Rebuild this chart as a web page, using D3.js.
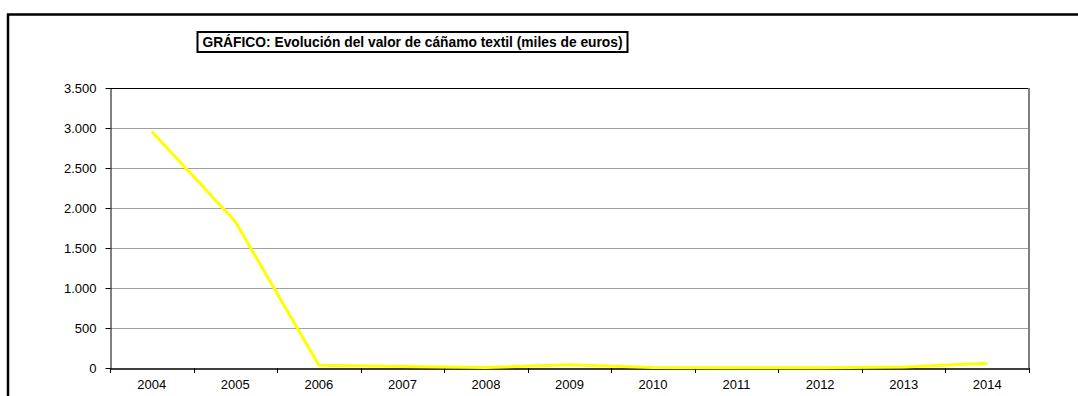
<!DOCTYPE html>
<html><head><meta charset="utf-8">
<script src="https://cdn.jsdelivr.net/npm/d3@7"></script>
<style>body{margin:0;background:#fff}svg{display:block}</style>
</head><body>
<svg id="c" width="1078" height="396"></svg>
<script>
const years = ["2004","2005","2006","2007","2008","2009","2010","2011","2012","2013","2014"];
const values = [2955, 1830, 35, 20, 6, 42, 5, 2, 3, 14, 60];
const yTicks = [0, 500, 1000, 1500, 2000, 2500, 3000, 3500];
const titleText = "GRÁFICO: Evolución del valor de cáñamo textil (miles de euros)";

(function () {
const svg = d3.select("#c");
const font = "Liberation Sans, Arial, sans-serif";
const pL = 110, pR = 1029, pT = 88, pB = 368;

// outer frame
svg.append("rect").attr("x", 8).attr("y", 14.5).attr("width", 1090).attr("height", 400)
  .attr("fill", "none").attr("stroke", "#000").attr("stroke-width", 2.5);

const x = d3.scaleBand().domain(years).range([pL, pR]);
const y = d3.scaleLinear().domain([0, 3500]).range([pB, pT]);

// gridlines
svg.append("g").selectAll("line").data(yTicks.filter(d => d > 0 && d < 3500)).join("line")
  .attr("x1", pL).attr("x2", pR)
  .attr("y1", d => Math.round(y(d)) + 0.5).attr("y2", d => Math.round(y(d)) + 0.5)
  .attr("stroke", "#a0a0a0").attr("stroke-width", 1);

// plot border: top black, right gray
svg.append("line").attr("x1", pL).attr("x2", pR).attr("y1", pT + 0.5).attr("y2", pT + 0.5)
  .attr("stroke", "#000");
svg.append("line").attr("x1", pR).attr("x2", pR).attr("y1", pT).attr("y2", pB)
  .attr("stroke", "#808080").attr("stroke-width", 2);

// y axis
const yAxis = svg.append("g").attr("transform", `translate(${pL + 0.5},0)`)
  .call(d3.axisLeft(y).tickValues(yTicks).tickSize(5).tickSizeOuter(0)
    .tickFormat(d => d3.format(",")(d).replace(/,/g, ".")));
yAxis.selectAll("text").attr("font-family", font).attr("font-size", 13).attr("fill", "#000").attr("x", -14);
yAxis.selectAll("line").attr("stroke", "#000");
yAxis.select(".domain").attr("stroke", "#000");
yAxis.selectAll(".tick").attr("transform", d => `translate(0,${Math.round(y(d)) + 0.5})`);

// x axis
const xAxis = svg.append("g").attr("transform", `translate(0,${pB + 0.5})`)
  .call(d3.axisBottom(x).tickSize(0).tickSizeOuter(0));
xAxis.select(".domain").attr("stroke", "#000").attr("stroke-width", 1.5);
xAxis.selectAll("text").attr("font-family", font).attr("font-size", 13).attr("fill", "#000")
  .attr("y", 0).attr("dy", 0).attr("transform", "translate(0,20.5)");
// boundary ticks
const bounds = years.map(d => x(d)).concat([pR]);
svg.append("g").selectAll("line").data(bounds).join("line")
  .attr("x1", d => Math.round(d) + 0.5).attr("x2", d => Math.round(d) + 0.5)
  .attr("y1", pB).attr("y2", pB + 5).attr("stroke", "#000");

// line
const line = d3.line().x((d, i) => x(years[i]) + x.bandwidth() / 2).y(d => y(d));
svg.append("path").datum(values).attr("d", line).attr("fill", "none")
  .attr("stroke", "#ffff00").attr("stroke-width", 3).attr("stroke-linejoin", "round");

// title box
const tg = svg.append("g");
tg.append("rect").attr("x", 197.5).attr("y", 32).attr("width", 430).attr("height", 20)
  .attr("fill", "#fff").attr("stroke", "#000").attr("stroke-width", 2);
tg.append("text").attr("x", 412.5).attr("y", 46.5).attr("text-anchor", "middle")
  .attr("font-family", font).attr("font-size", 13.8).attr("font-weight", "bold").text(titleText);
})();
</script>
</body></html>
